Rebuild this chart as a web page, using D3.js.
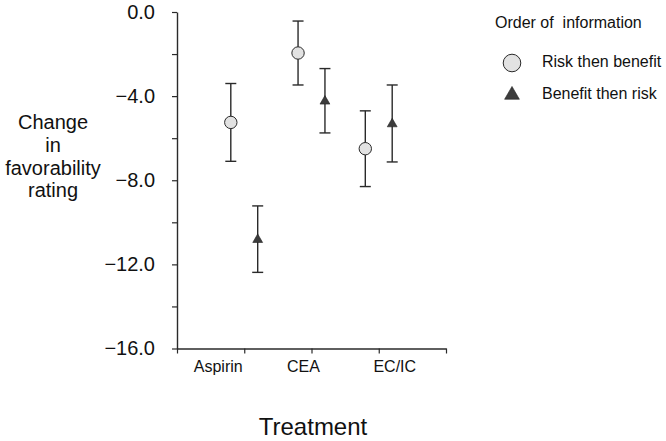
<!DOCTYPE html>
<html>
<head>
<meta charset="utf-8">
<script src="https://cdn.jsdelivr.net/npm/d3@7"></script>
<style>
  html, body { margin: 0; padding: 0; background: #fff; }
  svg { display: block; font-family: "Liberation Sans", Arial, sans-serif; }
</style>
</head>
<body>
<svg id="chart" width="666" height="441"></svg>
<script>
// ---- data ----
const categories = ["Aspirin", "CEA", "EC/IC"];
const seriesNames = ["Risk then benefit", "Benefit then risk"];
const riskFirstMean = [-5.25, -1.95, -6.5];
const riskFirstErr = [1.85, 1.52, 1.8];
const benefitFirstMean = [-10.8, -4.22, -5.3];
const benefitFirstErr = [1.58, 1.53, 1.83];
const yTickValues = [0, -2, -4, -6, -8, -10, -12, -14, -16];
const yLabelValues = [0, -4, -8, -12, -16];
const yTitleLines = ["Change", "in", "favorability", "rating"];
const xTitle = "Treatment";
const legendTitle = "Order of  information";

// ---- layout ----
const svg = d3.select("#chart");
const ink = "#2a2a2a";
const x = d3.scaleLinear().domain([0, 4]).range([177, 446]);
const y = d3.scaleLinear().domain([0, -16]).range([12, 348.5]);

// y axis
const yAxis = d3.axisLeft(y)
  .tickValues(yTickValues)
  .tickSize(5)
  .tickSizeOuter(0)
  .tickPadding(17)
  .tickFormat(d => yLabelValues.includes(d) ? d3.format(".1f")(d) : "");
const gy = svg.append("g").attr("transform", `translate(${x(0)},0)`).call(yAxis);
gy.select(".domain").attr("stroke", ink).attr("stroke-width", 1.4);
gy.selectAll(".tick line").attr("stroke", ink).attr("stroke-width", 1.2);
gy.selectAll(".tick text").attr("fill", "#111").attr("font-size", 20)
  .attr("font-family", "Liberation Sans, Arial, sans-serif");

// x axis
const xAxis = d3.axisBottom(x)
  .tickValues([0, 1, 2, 3, 4])
  .tickSize(5)
  .tickSizeOuter(0)
  .tickFormat("");
const gx = svg.append("g").attr("transform", `translate(0,${y(-16)})`).call(xAxis);
gx.select(".domain").attr("stroke", ink).attr("stroke-width", 1.4);
gx.selectAll(".tick line").attr("stroke", ink).attr("stroke-width", 1.2);

// category labels (offset as in the original)
const catLabelShift = [-26, -8, 16];
svg.append("g").selectAll("text").data(categories).join("text")
  .attr("x", (d, i) => x(i + 1) + catLabelShift[i])
  .attr("y", 372)
  .attr("text-anchor", "middle")
  .attr("font-size", 16)
  .attr("fill", "#111")
  .text(d => d);

// axis titles
svg.append("text").attr("x", 313).attr("y", 435).attr("text-anchor", "middle")
  .attr("font-size", 24).attr("fill", "#111").text(xTitle);
svg.append("g").selectAll("text").data(yTitleLines).join("text")
  .attr("x", 53)
  .attr("y", (d, i) => 129 + i * 22.8)
  .attr("text-anchor", "middle")
  .attr("font-size", 20)
  .attr("fill", "#111")
  .text(d => d);

// error bars + markers
const series = [
  { name: seriesNames[0], mean: riskFirstMean, err: riskFirstErr, shift: -0.2, shape: "circle" },
  { name: seriesNames[1], mean: benefitFirstMean, err: benefitFirstErr, shift: 0.2, shape: "triangle" }
];
const capHalf = 5.5;
series.forEach(s => {
  const g = svg.append("g");
  categories.forEach((c, i) => {
    const cx = x(i + 1 + s.shift);
    const hi = y(s.mean[i] + s.err[i]);
    const lo = y(s.mean[i] - s.err[i]);
    g.append("line").attr("x1", cx).attr("x2", cx).attr("y1", hi).attr("y2", lo)
      .attr("stroke", ink).attr("stroke-width", 1.4);
    g.append("line").attr("x1", cx - capHalf).attr("x2", cx + capHalf).attr("y1", hi).attr("y2", hi)
      .attr("stroke", ink).attr("stroke-width", 1.4);
    g.append("line").attr("x1", cx - capHalf).attr("x2", cx + capHalf).attr("y1", lo).attr("y2", lo)
      .attr("stroke", ink).attr("stroke-width", 1.4);
    const cy = y(s.mean[i]);
    if (s.shape === "circle") {
      g.append("circle").attr("cx", cx).attr("cy", cy).attr("r", 6.2)
        .attr("fill", "#e2e2e2").attr("stroke", ink).attr("stroke-width", 1);
    } else {
      g.append("path")
        .attr("d", d3.symbol(d3.symbolTriangle, 42)())
        .attr("transform", `translate(${cx},${cy + 0.5})`)
        .attr("fill", "#3c3c3c").attr("stroke", "#222").attr("stroke-width", 0.6);
    }
  });
});

// legend
const lg = svg.append("g");
lg.append("text").attr("x", 495).attr("y", 28).attr("font-size", 16).attr("fill", "#111")
  .attr("xml:space", "preserve").style("white-space", "pre").text(legendTitle);
lg.append("circle").attr("cx", 512).attr("cy", 63).attr("r", 8.8)
  .attr("fill", "#e2e2e2").attr("stroke", ink).attr("stroke-width", 1);
lg.append("text").attr("x", 542).attr("y", 67).attr("font-size", 16).attr("fill", "#111").text(seriesNames[0]);
lg.append("path").attr("d", d3.symbol(d3.symbolTriangle, 95)())
  .attr("transform", "translate(512,95)")
  .attr("fill", "#3c3c3c").attr("stroke", "#222").attr("stroke-width", 0.6);
lg.append("text").attr("x", 542).attr("y", 99).attr("font-size", 16).attr("fill", "#111").text(seriesNames[1]);
</script>
</body>
</html>
